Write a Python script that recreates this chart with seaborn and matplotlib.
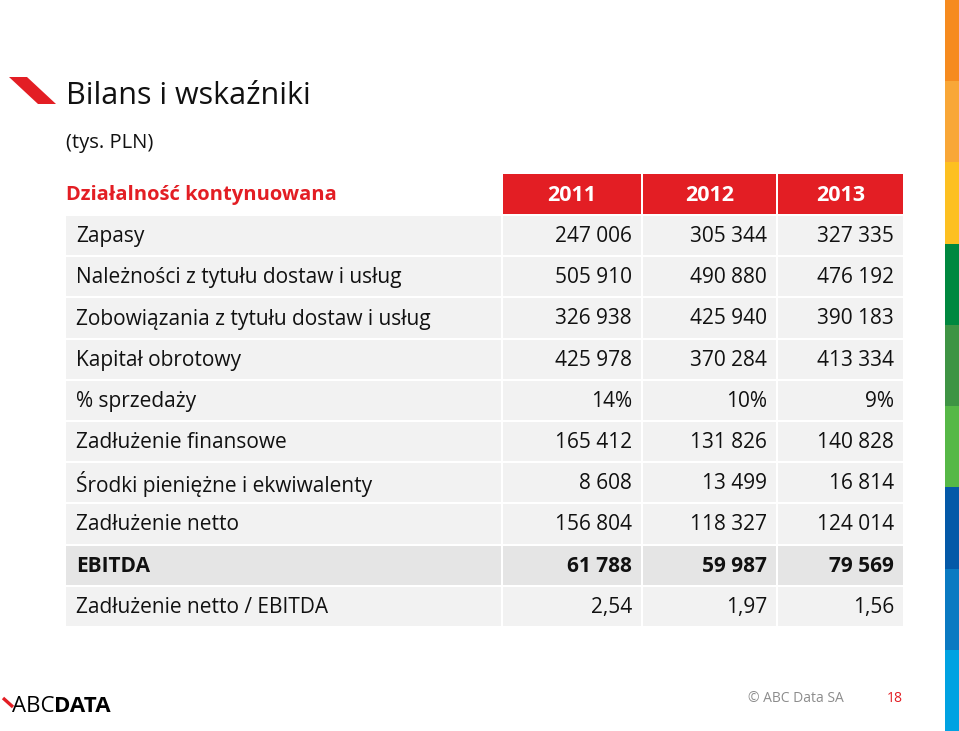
import numpy as np
import pandas as pd
import matplotlib
import seaborn as sns

matplotlib.use("Agg")
from matplotlib import pyplot as plt
from matplotlib.patches import Rectangle, Polygon

# --- data -----------------------------------------------------------------
years = ["2011", "2012", "2013"]
row_labels = [
    "Zapasy",
    "Należności z tytułu dostaw i usług",
    "Zobowiązania z tytułu dostaw i usług",
    "Kapitał obrotowy",
    "% sprzedaży",
    "Zadłużenie finansowe",
    "Środki pieniężne i ekwiwalenty",
    "Zadłużenie netto",
    "EBITDA",
    "Zadłużenie netto / EBITDA",
]
row_kind = ["int", "int", "int", "int", "pct", "int", "int", "int", "int", "ratio"]
values_2011 = [247006, 505910, 326938, 425978, 0.14, 165412, 8608, 156804, 61788, 2.54]
values_2012 = [305344, 490880, 425940, 370284, 0.10, 131826, 13499, 118327, 59987, 1.97]
values_2013 = [327335, 476192, 390183, 413334, 0.09, 140828, 16814, 124014, 79569, 1.56]
bold_rows = ["EBITDA"]

strip_colors = ["#F68B1F", "#F9A737", "#FDC021", "#00883F", "#3E9444",
                "#56B847", "#0459A8", "#0A7AC2", "#00A2E2"]

table = pd.DataFrame({"label": row_labels, "kind": row_kind,
                      "2011": values_2011, "2012": values_2012, "2013": values_2013})


def fmt(v, kind):
    if kind == "pct":
        return f"{round(v * 100):d}%"
    if kind == "ratio":
        return f"{v:.2f}".replace(".", ",")
    return f"{int(v):,}".replace(",", " ")


# --- style ----------------------------------------------------------------
sns.set_theme(style="white")
plt.rcParams["font.family"] = ["Open Sans", "DejaVu Sans"]

RED = "#E31E24"
CELL = "#F2F2F2"
CELL_BOLD = "#E5E5E5"
TXT = "#111111"
FS = 15

fig = plt.figure(figsize=(9.59, 7.31), dpi=100)
ax = fig.add_axes([0, 0, 1, 1])
ax.set_xlim(0, 959)
ax.set_ylim(731, 0)
ax.axis("off")

# side colour strip
edges = np.linspace(0, 731, len(strip_colors) + 1)
for c, y0, y1 in zip(strip_colors, edges[:-1], edges[1:]):
    ax.add_patch(Rectangle((945, y0), 14, y1 - y0, color=c, lw=0))

# title block
ax.add_patch(Polygon([[9, 77], [27, 77], [56, 104], [38, 104]], color=RED, lw=0))
ax.text(66, 96, "Bilans i wskaźniki", fontsize=22, color=TXT, va="center", ha="left")
ax.text(66, 143, "(tys. PLN)", fontsize=14.5, color=TXT, va="center", ha="left")

# table geometry
col_left = [66, 503, 643, 778]
col_right = [501, 641, 776, 903]
header_top, header_h = 174, 39.5
row_top, row_pitch, row_h = 216, 41.2, 39.2

ax.text(col_left[0], header_top + header_h / 2 + 1.5, "Działalność kontynuowana",
        fontsize=14.5, fontweight="bold", color=RED, va="center", ha="left")
for j, yr in enumerate(years, start=1):
    ax.add_patch(Rectangle((col_left[j], header_top), col_right[j] - col_left[j], header_h,
                           color=RED, lw=0))
    ax.text((col_left[j] + col_right[j]) / 2, header_top + header_h / 2 + 1.5, yr,
            fontsize=15.5, fontweight="bold", color="white", va="center", ha="center")

for i, row in table.iterrows():
    y0 = row_top + i * row_pitch
    bold = row["label"] in bold_rows
    weight = "bold" if bold else "normal"
    fill = CELL_BOLD if bold else CELL
    for j in range(4):
        ax.add_patch(Rectangle((col_left[j], y0), col_right[j] - col_left[j], row_h,
                               color=fill, lw=0))
    yc = y0 + row_h / 2 + 1
    ax.text(col_left[0] + 10, yc, row["label"], fontsize=FS, fontweight=weight,
            color=TXT, va="center", ha="left")
    for j, yr in enumerate(years, start=1):
        ax.text(col_right[j] - 9, yc, fmt(row[yr], row["kind"]), fontsize=FS,
                fontweight=weight, color=TXT, va="center", ha="right")

# footer
ax.plot([3, 13], [698, 707], color=RED, lw=2.4, solid_capstyle="butt")
abc = ax.text(12, 706, "ABC", fontsize=16, color="black", va="center", ha="left")
ax.annotate("DATA", xy=(1, 0.5), xycoords=abc, fontsize=16, fontweight="bold",
            color="black", va="center", ha="left")
ax.text(748, 699, "© ABC Data SA", fontsize=10, color="#8C8C8C", va="center", ha="left")
ax.text(903, 699, "18", fontsize=10, color=RED, va="center", ha="right")

fig.savefig("out.png", dpi=100)
plt.close(fig)
